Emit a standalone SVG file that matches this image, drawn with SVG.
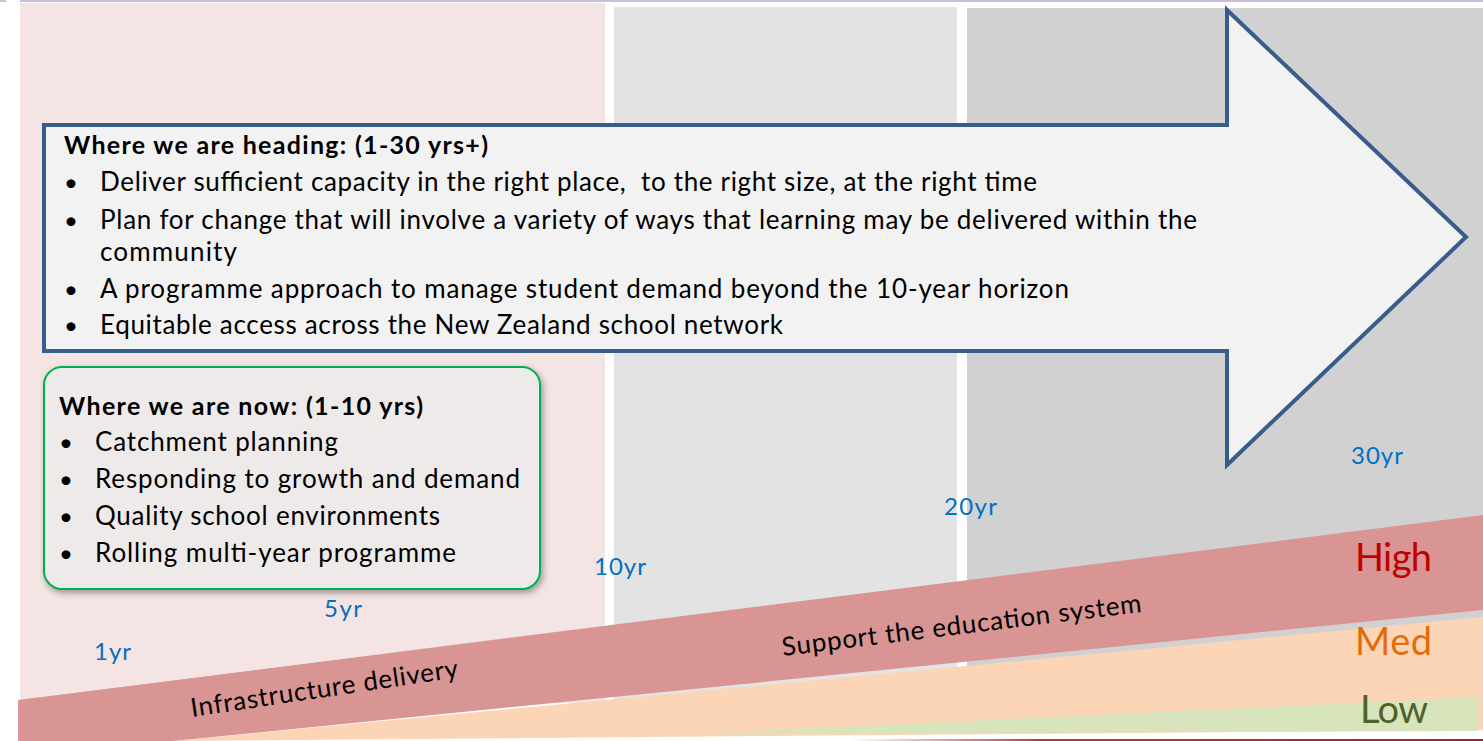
<svg xmlns="http://www.w3.org/2000/svg" width="1483" height="741" viewBox="0 0 1483 741">
<defs>
<style>
.t{font-family:Lato,"Liberation Sans",sans-serif;fill:#000}
.b{font-weight:bold}
.yr{font-family:Lato,"Liberation Sans",sans-serif;fill:#0070c0;font-size:24px}
.lvl{font-family:Lato,"Liberation Sans",sans-serif;font-size:38px}
</style>
<filter id="sh" x="-10%" y="-10%" width="120%" height="130%">
<feDropShadow dx="2" dy="3" stdDeviation="3" flood-color="#000" flood-opacity="0.35"/>
</filter>
<linearGradient id="bl" x1="0" y1="0" x2="1" y2="0">
<stop offset="0" stop-color="#ffffff"/>
<stop offset="0.3" stop-color="#b04040"/>
<stop offset="1" stop-color="#9a2b28"/>
</linearGradient>
</defs>

<g id="background">
<rect x="0" y="0" width="6" height="2" fill="#c9bfdc"/>
<rect x="20" y="0" width="1463" height="2" fill="#c9bfdc"/>
<rect x="20" y="3" width="585" height="700" fill="#f4e4e4"/>
<rect x="614" y="7" width="343" height="696" fill="#e3e3e3"/>
<rect x="967" y="8" width="516" height="695" fill="#d1d1d1"/>
</g>

<g id="bands">
<polygon points="173,741 1483,617 1483,730 173,741" fill="#fbd5b5"/>
<polygon points="690,734 1478,697 1478,731 690,734" fill="#d8e4bc"/>
<polygon points="18,700 1483,515 1483,610 173,741 18,741" fill="#d99594"/>
<rect x="850" y="739" width="633" height="2" fill="url(#bl)"/>
<text class="t" font-size="26" transform="translate(192,717) rotate(-8.5)" textLength="270">Infrastructure delivery</text>
<text class="t" font-size="26" transform="translate(783,656) rotate(-7)" textLength="362">Support the education system</text>
<text class="lvl" x="1355" y="571" fill="#c00000" textLength="77">High</text>
<text class="lvl" x="1355" y="655" fill="#e46c0a" textLength="77">Med</text>
<text class="lvl" x="1360" y="723" fill="#4f6228" textLength="68">Low</text>
</g>

<g id="years">
<text class="yr" x="94" y="660" textLength="37">1yr</text>
<text class="yr" x="324" y="617" textLength="38">5yr</text>
<text class="yr" x="594" y="575" textLength="52">10yr</text>
<text class="yr" x="944" y="515" textLength="53">20yr</text>
<text class="yr" x="1351" y="464" textLength="52">30yr</text>
</g>

<g id="heading-arrow">
<polygon points="44,125 1227,125 1227,10 1466,237 1227,465 1227,351 44,351" fill="#f2f2f2" stroke="#385d8a" stroke-width="4" stroke-linejoin="miter"/>
<text class="t b" x="64" y="154" font-size="25" textLength="424">Where we are heading: (1-30 yrs+)</text>
<text class="t" x="64" y="191" font-size="24">•</text>
<text class="t" x="100" y="191" font-size="26" textLength="937">Deliver sufficient capacity in the right place,&#160; to the right size, at the right time</text>
<text class="t" x="64" y="229" font-size="24">•</text>
<text class="t" x="100" y="229" font-size="26" textLength="1097">Plan for change that will involve a variety of ways that learning may be delivered within the</text>
<text class="t" x="100" y="261" font-size="26" textLength="137">community</text>
<text class="t" x="64" y="298" font-size="24">•</text>
<text class="t" x="100" y="298" font-size="26" textLength="969">A programme approach to manage student demand beyond the 10-year horizon</text>
<text class="t" x="64" y="334" font-size="24">•</text>
<text class="t" x="100" y="334" font-size="26" textLength="683">Equitable access across the New Zealand school network</text>
</g>

<g id="now-box">
<rect x="44" y="367" width="496" height="222" rx="18" ry="18" fill="#eeeaea" stroke="#00b050" stroke-width="2" filter="url(#sh)"/>
<text class="t b" x="59" y="415" font-size="25" textLength="364">Where we are now: (1-10 yrs)</text>
<text class="t" x="59" y="451" font-size="24">•</text>
<text class="t" x="95" y="451" font-size="26" textLength="243">Catchment planning</text>
<text class="t" x="59" y="488" font-size="24">•</text>
<text class="t" x="95" y="488" font-size="26" textLength="425">Responding to growth and demand</text>
<text class="t" x="59" y="525" font-size="24">•</text>
<text class="t" x="95" y="525" font-size="26" textLength="345">Quality school environments</text>
<text class="t" x="59" y="562" font-size="24">•</text>
<text class="t" x="95" y="562" font-size="26" textLength="361">Rolling multi-year programme</text>
</g>
</svg>
